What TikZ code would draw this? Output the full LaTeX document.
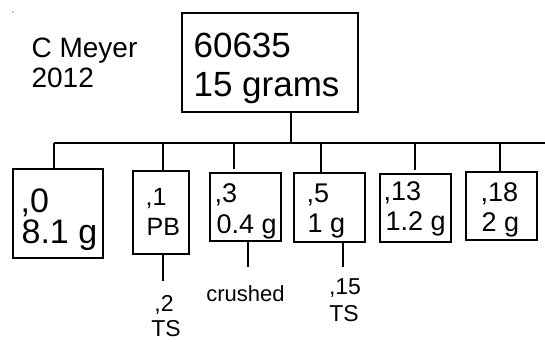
\documentclass[tikz,border=0pt]{standalone}
\usepackage{fontspec}
\setmainfont{Liberation Sans}
\newcommand{\fs}[1]{\fontsize{#1}{#1}\selectfont}
\begin{document}
\begin{tikzpicture}[x=1pt,y=-1pt,
  line width=1.2pt,
  box/.style={draw, line width=1.2pt, rectangle, inner sep=0pt},
  lbl/.style={inner sep=0pt, anchor=base west},
  clbl/.style={inner sep=0pt, anchor=base},
  conn/.style={line width=1.2pt}]
\useasboundingbox (0,0) rectangle (545,341);
% tiny mark
\fill (13,12) circle (0.6pt);
% author
\node[lbl, font=\fs{28}] (auth1) at (31,57) {C Meyer};
\node[lbl, font=\fs{28}] (auth2) at (31,87) {2012};
% main box
\node[box, minimum width=176pt, minimum height=99pt] (main) at (270,62.5) {};
\node[lbl, font=\fs{35}] (m1) at (193,57) {60635};
\node[lbl, font=\fs{35}] (m2) at (193,96) {15 grams};
% child boxes
\node[box, minimum width=90pt, minimum height=89pt] (b0) at (58,213.5) {};
\node[box, minimum width=56pt, minimum height=83pt] (b1) at (161,212.5) {};
\node[box, minimum width=71pt, minimum height=68pt] (b3) at (245.5,207) {};
\node[box, minimum width=71pt, minimum height=69pt] (b5) at (329.5,207.5) {};
\node[box, minimum width=71pt, minimum height=68pt] (b13) at (415.5,208) {};
\node[box, minimum width=71pt, minimum height=68pt] (b18) at (501.5,206) {};
% texts in boxes
\node[lbl, font=\fs{34}] (t0a) at (20,212) {,0};
\node[lbl, font=\fs{34}] (t0b) at (21,243) {8.1 g};
\node[lbl, font=\fs{25}] (t1a) at (145,205) {,1};
\node[lbl, font=\fs{25}] (t1b) at (146,235) {PB};
\node[lbl, font=\fs{27}] (t3a) at (214,202) {,3};
\node[lbl, font=\fs{27}] (t3b) at (216,233) {0.4 g};
\node[lbl, font=\fs{27}] (t5a) at (306,202) {,5};
\node[lbl, font=\fs{27}] (t5b) at (307,232) {1 g};
\node[lbl, font=\fs{27}] (t13a) at (383,200) {,13};
\node[lbl, font=\fs{27}] (t13b) at (385,230) {1.2 g};
\node[lbl, font=\fs{27}] (t18a) at (480,201) {,18};
\node[lbl, font=\fs{27}] (t18b) at (481,231) {2 g};
% texts below
\node[clbl, font=\fs{23}] (u2a) at (164,311) {,2};
\node[clbl, font=\fs{23}] (u2b) at (166,336) {TS};
\node[clbl, font=\fs{22}] (cr) at (245.5,301) {crushed};
\node[clbl, font=\fs{23}] (u15a) at (345,294) {,15};
\node[clbl, font=\fs{23}] (u15b) at (344,321) {TS};
% bus coordinates
\coordinate (busL) at (54,143);
\coordinate (busR) at (545,143);
\coordinate (bm) at (291,143);
\coordinate (k0) at (54,143);
\coordinate (k1) at (163,143);
\coordinate (k3) at (234,143);
\coordinate (k5) at (321,143);
\coordinate (k13) at (415,143);
\coordinate (k18) at (500,143);
\coordinate (e3) at (234,169);
\coordinate (e13) at (415,170);
\coordinate (d1) at (163,281);
\coordinate (d3) at (248,267);
\coordinate (d5) at (343,267);
% connectors
\draw[conn] (main.south -| bm) -- (bm);
\draw[conn] (busL) -- (busR);
\draw[conn] (k0) -- (b0.north -| k0);
\draw[conn] (k1) -- (b1.north -| k1);
\draw[conn] (k3) -- (e3);
\draw[conn] (k5) -- (b5.north -| k5);
\draw[conn] (k13) -- (e13);
\draw[conn] (k18) -- (b18.north -| k18);
\draw[conn] (b1.south -| d1) -- (d1);
\draw[conn] (b3.south -| d3) -- (d3);
\draw[conn] (b5.south -| d5) -- (d5);
\end{tikzpicture}
\end{document}
